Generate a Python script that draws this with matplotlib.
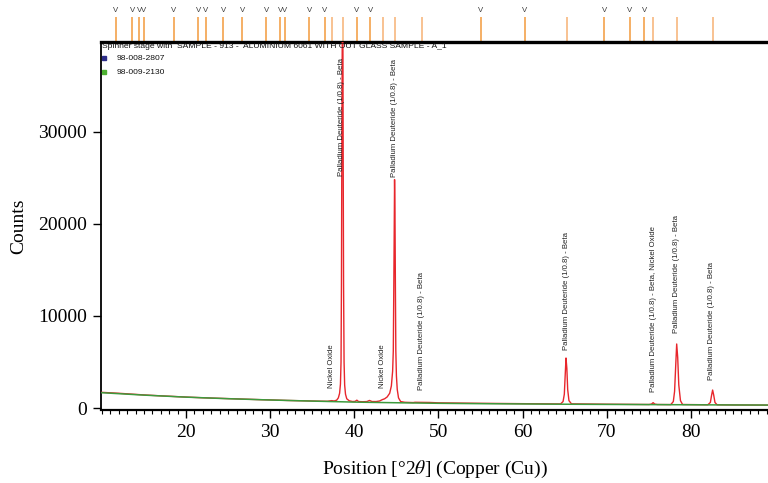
import matplotlib
matplotlib.use("Agg")
import matplotlib.pyplot as plt
from matplotlib.ticker import MultipleLocator

# ---------------- data ----------------
obs_x = [10.0, 11, 12, 13, 14, 15, 16, 17, 18, 19, 20, 21, 22, 23, 24, 25, 26, 27, 28,
         29, 30, 31, 32, 33, 34, 35, 36, 36.8, 37.3, 37.6, 37.9, 38.1, 38.25, 38.35,
         38.42, 38.47, 38.52, 38.57, 38.64, 38.68, 38.72, 38.78, 38.85, 38.95, 39.1,
         39.4, 39.8, 40.1, 40.3, 40.5, 41.0, 41.5, 41.8, 42.1, 42.6, 43.0, 43.3, 43.6,
         43.9, 44.2, 44.4, 44.55, 44.63, 44.68, 44.73, 44.78, 44.83, 44.88, 44.93,
         45.0, 45.1, 45.25, 45.5, 46, 47, 47.2, 49.0, 50, 55, 60, 64.5, 64.8, 64.95,
         65.05, 65.15, 65.25, 65.35, 65.5, 65.8, 70, 75, 75.3, 75.5, 75.7, 76, 77.6,
         77.9, 78.05, 78.18, 78.3, 78.42, 78.55, 78.75, 79.0, 82.0, 82.3, 82.45,
         82.57, 82.7, 82.85, 83.1, 85, 89.2]
obs_y = [1700, 1650, 1600, 1540, 1480, 1420, 1370, 1320, 1280, 1230, 1190, 1150, 1110,
         1080, 1050, 1020, 990, 960, 930, 900, 880, 850, 820, 800, 780, 760, 740, 730,
         800, 760, 850, 1100, 1600, 2600, 5000, 13500, 30000, 41000, 41000, 26000,
         13500, 5000, 2500, 1500, 1000, 780, 700, 720, 850, 700, 680, 700, 820, 700,
         700, 760, 900, 1000, 1200, 1600, 2400, 4000, 6200, 12000, 18000, 24800, 21000,
         13000, 6200, 3500, 2000, 1100, 700, 620, 590, 620, 600, 560, 510, 470, 440,
         700, 1500, 3500, 5430, 4300, 2000, 800, 450, 410, 380, 420, 580, 420, 380,
         370, 700, 1800, 4500, 6950, 5500, 2500, 800, 380, 350, 600, 1400, 1950, 1400,
         600, 350, 330, 310]

bg_x = [10, 15, 20, 25, 30, 35, 40, 45, 50, 55, 60, 65, 70, 75, 80, 85, 89.2]
bg_y = [1660, 1400, 1180, 1010, 870, 750, 640, 570, 510, 470, 440, 410, 390, 370, 350, 330, 320]

# reference stick positions (top strip)
ref1_pos = [11.68, 13.62, 14.42, 15.01, 18.54, 21.46, 22.34, 24.43, 26.69, 29.54, 31.20,
            31.76, 34.65, 36.51, 40.28, 41.90, 55.01, 60.24, 69.70, 72.75, 74.45]
ref2_pos = [37.38, 38.69, 43.44, 44.83, 48.00, 65.27, 75.52, 78.33, 82.57]

# peak annotations: (x, y of text bottom, text)
pd = "Palladium Deuteride (1/0.8) - Beta"
ann_x = [37.3, 38.53, 43.4, 44.83, 48.0, 65.2, 75.5, 78.3, 82.46]
ann_y = [2170, 25190, 2170, 25080, 1950, 6300, 1740, 8140, 3040]
ann_t = ["Nickel Oxide", pd, "Nickel Oxide", pd, pd, pd,
         pd + ", Nickel Oxide", pd, pd]

legend_codes = ["98-008-2807", "98-009-2130"]
legend_cols = ["#2e2e8a", "#4cb030"]
header = "Spinner stage with  SAMPLE - 913 -  ALUMINIUM 6061 WITH OUT GLASS SAMPLE - A_1"

xticks = [20, 30, 40, 50, 60, 70, 80]
yticks = [0, 10000, 20000, 30000]

# ---------------- figure ----------------
plt.rcParams['mathtext.fontset'] = 'stix'
serif = "Liberation Serif"
sans = "Liberation Sans"

fig = plt.figure(figsize=(7.68, 4.83), dpi=100)
L, R, B, T = 101, 768, 410, 42
ax = fig.add_axes([L / 768, 1 - B / 483, (R - L) / 768, (B - T) / 483])

ax.plot(obs_x, obs_y, color="#e8262c", lw=1.0, zorder=3)
ax.plot(bg_x, bg_y, color="#3d9a3d", lw=1.1, zorder=4)

ax.set_xlim(9.9, 89.15)
ax.set_ylim(-217, 39740)

ax.set_xticks(xticks)
ax.set_yticks(yticks)
ax.xaxis.set_minor_locator(MultipleLocator(1))
ax.tick_params(axis="both", which="major", direction="out", length=6, width=1.0,
               labelsize=14, pad=4)
ax.tick_params(axis="x", which="minor", direction="out", length=3, width=0.8)
for lab in ax.get_xticklabels() + ax.get_yticklabels():
    lab.set_fontfamily(serif)

ax.spines["right"].set_visible(False)
ax.spines["top"].set_linewidth(2.4)
ax.spines["left"].set_linewidth(1.3)
ax.spines["bottom"].set_linewidth(1.6)

ax.set_xlabel(r"Position [°2$\theta$] (Copper (Cu))", fontsize=14, family=serif, labelpad=13)
ax.set_ylabel("Counts", fontsize=14, family=serif, labelpad=8)

# top reference strip
trans = ax.get_xaxis_transform()
ax.vlines(ref1_pos, 1.0, 1.068, transform=trans, colors="#f39a3c", lw=1.1, clip_on=False)
ax.vlines(ref2_pos, 1.0, 1.068, transform=trans, colors="#f6b174", lw=1.1, clip_on=False)
for p in ref1_pos:
    ax.text(p, 1.085, "V", transform=trans, ha="center", va="center", fontsize=5.6,
            family=sans, color="#3a3a3a", clip_on=False)

# annotations
for x, y, t in zip(ann_x, ann_y, ann_t):
    ax.text(x, y, t, rotation=90, ha="center", va="bottom", fontsize=5.6,
            family=sans, color="#222222", zorder=5, clip_on=True)

# header and legend
ax.text(0.002, 0.989, header, transform=ax.transAxes, ha="left", va="center",
        fontsize=6.1, family=sans, color="#111111")
for i, (code, col) in enumerate(zip(legend_codes, legend_cols)):
    yy = 0.9565 - i * 0.0385
    ax.plot([0.0045], [yy], marker="s", ms=2.5, color=col, transform=ax.transAxes,
            clip_on=False)
    ax.text(0.024, yy, code, transform=ax.transAxes, ha="left", va="center",
            fontsize=6.1, family=sans, color="#111111")

fig.savefig("out.png", dpi=100)
